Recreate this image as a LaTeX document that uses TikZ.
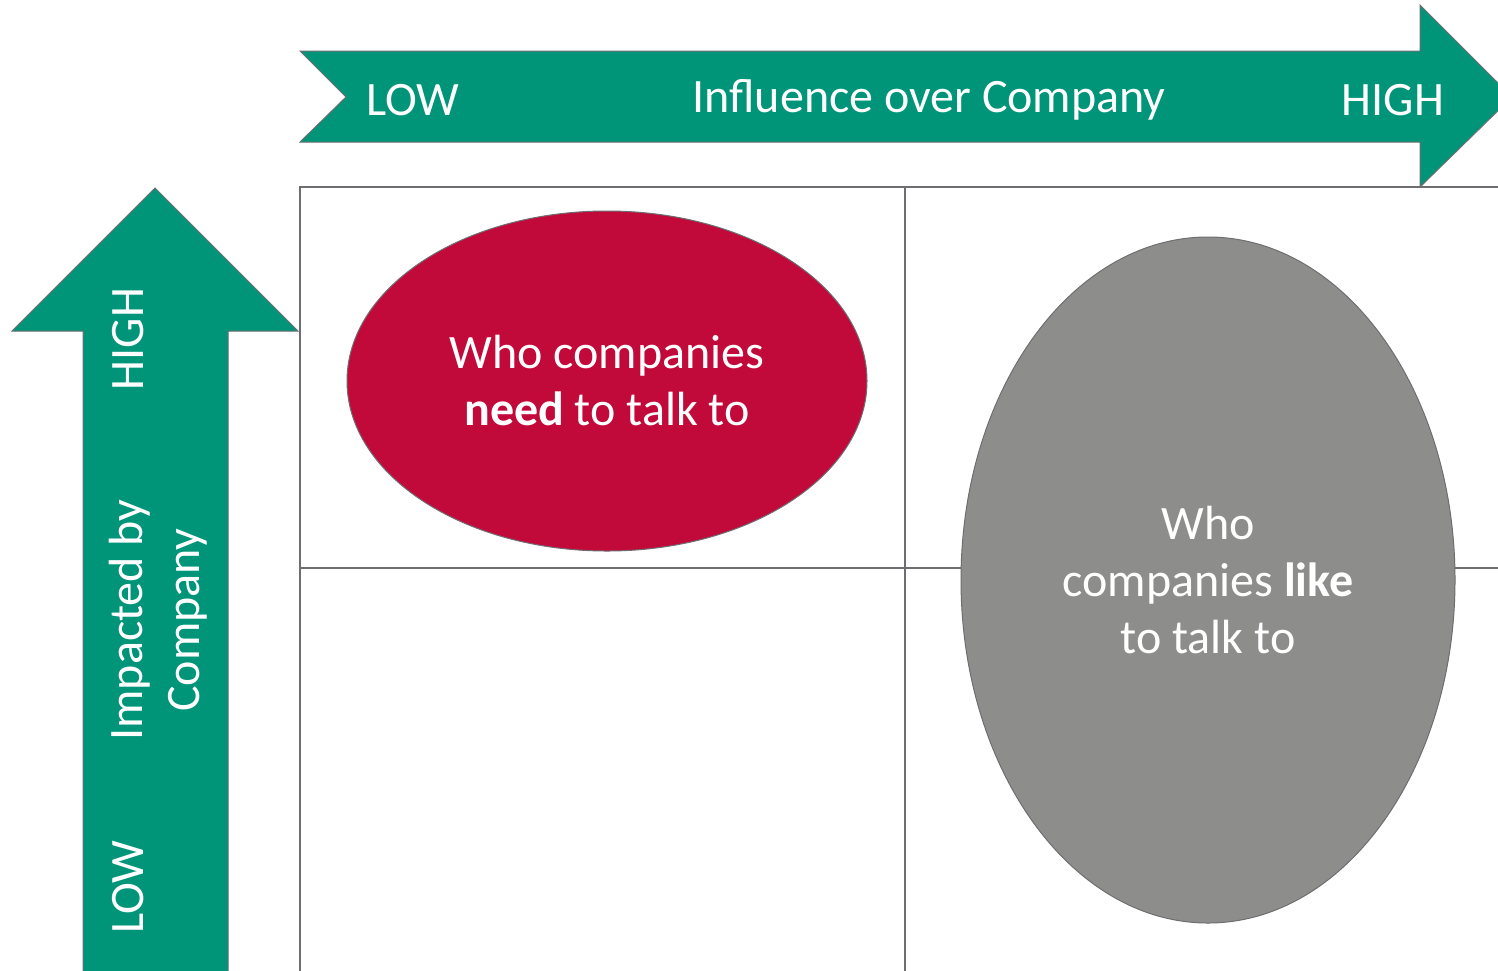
\documentclass[tikz,border=0pt]{standalone}
\usepackage{fontspec}
\setmainfont{Carlito}
\usetikzlibrary{shapes.geometric}
\definecolor{teal}{RGB}{0,148,121}
\definecolor{redfill}{RGB}{194,10,58}
\definecolor{grayfill}{RGB}{141,142,140}
\definecolor{gridline}{RGB}{110,110,114}
\tikzset{
  arrowshape/.style={fill=teal, draw=gridline, line width=1pt},
  gridstyle/.style={draw=gridline, line width=2.5pt},
  lbl/.style={text=white, font=\fontsize{48}{57}\selectfont, inner sep=0pt},
  blob/.style={ellipse, draw=gridline, line width=1pt, text=white, align=center,
    font=\fontsize{48}{57}\selectfont, inner sep=0pt},
}
\begin{document}
\begin{tikzpicture}[x=1pt,y=-1pt]
\useasboundingbox (0,0) rectangle (1498,970);
\clip (0,0) rectangle (1498,970);
\fill[white] (0,0) rectangle (1498,970);
% grid
\draw[gridstyle] (1510,187) -- (300,187) -- (300,990);
\draw[gridstyle] (905,187) -- (905,990);
\draw[gridstyle] (300,568) -- (1510,568);
% top arrow
\draw[arrowshape] (300,51) -- (1420,51) -- (1420,5) -- (1512,97) -- (1420,187) -- (1420,142) -- (300,142) -- (346,97) -- cycle;
% left arrow
\draw[arrowshape] (83,990) -- (83,331) -- (12,331) -- (155,188) -- (298,331) -- (228,331) -- (228,990);
% ellipses
\node[blob, fill=redfill, minimum width=520pt, minimum height=340pt] (need) at (607,381) {Who companies\\\textbf{need} to talk to};
\node[blob, fill=grayfill, minimum width=494pt, minimum height=686pt] (like) at (1208,580) {Who\\companies \textbf{like}\\to talk to};
% top labels
\node[lbl] (tlow) at (413,100) {LOW};
\node[lbl] (tmid) at (929,100) {Influence over Company};
\node[lbl] (thigh) at (1393,100) {HIGH};
% left labels
\node[lbl, rotate=90] (lhigh) at (128,339) {HIGH};
\node[lbl, rotate=90, align=center] (lmid) at (158,620) {Impacted by\\Company};
\node[lbl, rotate=90] (llow) at (128,887) {LOW};
\end{tikzpicture}
\end{document}
